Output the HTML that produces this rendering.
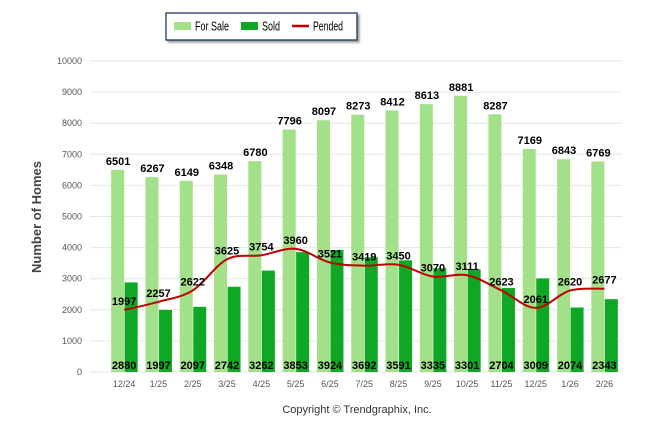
<!DOCTYPE html>
<html><head><meta charset="utf-8"><style>
body{margin:0;background:#fff;font-family:"Liberation Sans",sans-serif}
</style></head><body>
<svg id="c" width="646" height="434" xmlns="http://www.w3.org/2000/svg" font-family="Liberation Sans, sans-serif">
<g>
<rect x="166" y="13" width="191" height="27" fill="#fff" stroke="#1f3a66" stroke-width="1.3" style="filter:drop-shadow(2px 2px 1px #999)"/>
<rect x="174" y="22" width="17" height="8" fill="#a2e08a"/>
<text x="195" y="30.5" font-size="12.5" textLength="34" lengthAdjust="spacingAndGlyphs">For Sale</text>
<rect x="241" y="22" width="17" height="8" fill="#0ea824"/>
<text x="262" y="30.5" font-size="12.5" textLength="18" lengthAdjust="spacingAndGlyphs">Sold</text>
<line x1="292" y1="26" x2="309" y2="26" stroke="#c00000" stroke-width="2.5"/>
<text x="313" y="30.5" font-size="12.5" textLength="30" lengthAdjust="spacingAndGlyphs">Pended</text>
</g>
<text transform="translate(41,217) rotate(-90)" text-anchor="middle" font-size="13" font-weight="bold" fill="#444">Number of Homes</text>
<text x="357" y="413" text-anchor="middle" font-size="11" fill="#333">Copyright © Trendgraphix, Inc.</text>
<g id="grid"></g><g id="bars"></g><g id="line"></g><g id="labels"></g>
</svg>
<script>
const categories=["12/24","1/25","2/25","3/25","4/25","5/25","6/25","7/25","8/25","9/25","10/25","11/25","12/25","1/26","2/26"];
const forSale=[6501,6267,6149,6348,6780,7796,8097,8273,8412,8613,8881,8287,7169,6843,6769];
const sold=[2880,1997,2097,2742,3262,3853,3924,3692,3591,3335,3301,2704,3009,2074,2343];
const pended=[1997,2257,2622,3625,3754,3960,3521,3419,3450,3070,3111,2623,2061,2620,2677];
const yTicks=[0,1000,2000,3000,4000,5000,6000,7000,8000,9000,10000];
const NS="http://www.w3.org/2000/svg";
const y0=372,y1=61,x0=107,step=34.3,bw=13;
const Y=v=>y0-(v/10000)*(y0-y1);
const X=i=>x0+step*(i+0.5);
function mk(t,a,p){const e=document.createElementNS(NS,t);for(const k in a)e.setAttribute(k,a[k]);document.getElementById(p).appendChild(e);return e;}
yTicks.forEach(v=>{
 const l=mk('line',{x1:90,x2:622,y1:Y(v),y2:Y(v),stroke:'#e6e6e6','stroke-width':1},'grid');
 
 
 const t=mk('text',{x:82,y:Y(v)+3,'text-anchor':'end','font-size':9,fill:'#555'},'grid');t.textContent=v;
 
 
});
categories.forEach((c,i)=>{
 const t=mk('text',{x:X(i),y:387,'text-anchor':'middle','font-size':9,fill:'#555'},'grid');t.textContent=c;
 
 
 const a=mk('rect',{x:X(i)-bw,y:Y(forSale[i]),width:bw,height:y0-Y(forSale[i]),fill:'#a2e08a'},'bars');
 
 
 const b=mk('rect',{x:X(i)+0.5,y:Y(sold[i]),width:bw,height:y0-Y(sold[i]),fill:'#0ea824'},'bars');
 
 
 const lf=mk('text',{x:X(i)-6,y:Y(forSale[i])-5,'text-anchor':'middle','font-size':11,'font-weight':'bold'},'labels');lf.textContent=forSale[i];
 
 
 const ls=mk('text',{x:X(i),y:369,'text-anchor':'middle','font-size':11,'font-weight':'bold'},'labels');ls.textContent=sold[i];
 
 
 const lp=mk('text',{x:X(i),y:Y(pended[i])-5,'text-anchor':'middle','font-size':11,'font-weight':'bold'},'labels');lp.textContent=pended[i];
 
 
});
const pts=pended.map((v,i)=>[X(i),Y(v)]);
let d=`M${pts[0][0]},${pts[0][1]}`;
for(let i=0;i<pts.length-1;i++){
 const p0=pts[i-1]||pts[i],p1=pts[i],p2=pts[i+1],p3=pts[i+2]||p2;
 const c1=[p1[0]+(p2[0]-p0[0])/6,p1[1]+(p2[1]-p0[1])/6],c2=[p2[0]-(p3[0]-p1[0])/6,p2[1]-(p3[1]-p1[1])/6];
 d+=` C${c1[0]},${c1[1]} ${c2[0]},${c2[1]} ${p2[0]},${p2[1]}`;
}
const pl=mk('path',{d:d,fill:'none',stroke:'#c00000','stroke-width':2},'line');


</script>
</body></html>
